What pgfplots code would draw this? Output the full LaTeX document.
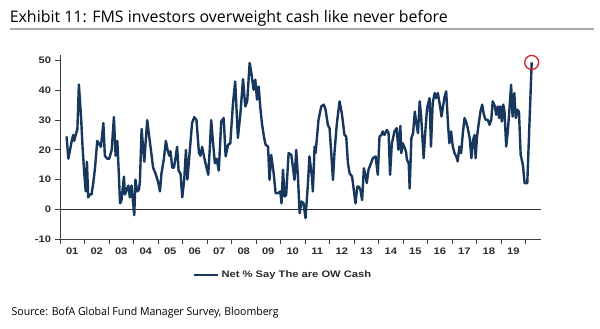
\documentclass[border=0pt]{standalone}
\usepackage{pgfplots}
\pgfplotsset{compat=1.18}
\usepackage{fontspec}
\setmainfont{Liberation Sans}
\newfontfamily\chartfont[FakeStretch=1.18]{Liberation Sans}
\newfontfamily\titlefont{Open Sans}
\definecolor{navy}{HTML}{17375E}
\definecolor{circred}{HTML}{D0202E}
\definecolor{axgray}{HTML}{404040}
\definecolor{txtgray}{HTML}{2B2B2B}
\definecolor{srcgray}{HTML}{4A4A4A}
\definecolor{rulegray}{HTML}{A8A8A8}
\newsavebox\titlebox
\newsavebox\srcbox
\newlength\tw
\newlength\sw
\begin{document}%
\sbox\titlebox{\titlefont\fontsize{16}{19}\selectfont Exhibit 11: FMS investors overweight cash like never before}%
\sbox\srcbox{\titlefont\fontsize{11}{13}\selectfont Source: BofA Global Fund Manager Survey, Bloomberg}%
\setlength\tw{\wd\titlebox}%
\setlength\sw{\wd\srcbox}%
\pgfmathsetmacro\tsx{438bp/\tw}%
\pgfmathsetmacro\ssx{267bp/\sw}%
\begin{tikzpicture}
\useasboundingbox (0,0) rectangle (600bp,329bp);
\node[anchor=base west, inner sep=0pt, text=txtgray] at (9.6bp,306bp) {\scalebox{\tsx}[1]{\usebox\titlebox}};
\draw[rulegray, line width=1.2bp] (9.6bp,300bp) -- (594bp,300bp);
\node[anchor=base west, inner sep=0pt, text=srcgray] at (11.5bp,14bp) {\scalebox{\ssx}[1]{\usebox\srcbox}};
\begin{axis}[
  at={(60bp,90bp)}, anchor=south west,
  scale only axis, width=481bp, height=184bp,
  xmin=2001, xmax=2020.63, ymin=-10, ymax=51.9,
  axis lines*=left,
  axis line style={axgray, line width=0.8bp},
  tick style={axgray, line width=0.8bp},
  tick align=outside, major tick length=5.5bp,
  xtick={2001,...,2020},
  xticklabels={01,02,03,04,05,06,07,08,09,10,11,12,13,14,15,16,17,18,19,{}},
  x tick label style={xshift=12.24bp},
  ytick={-10,0,10,20,30,40,50},
  /pgf/number format/assume math mode=true,
  tick label style={font=\chartfont\bfseries\fontsize{9.5}{11}\selectfont, text=txtgray},
  legend style={at={(axis description cs:0.2765,-0.1957)}, anchor=west, draw=none, fill=none,
    inner sep=0pt, font=\chartfont\bfseries\fontsize{9.5}{11}\selectfont, text=txtgray},
  legend image code/.code={\draw[#1] (0bp,0bp) -- (24bp,0bp);},
  clip=false,
]
\addplot[forget plot, black!80, line width=0.8bp] coordinates {(2001,0) (2020.63,0)};
\addplot[navy, line width=2.4bp, line join=round] coordinates {
(2001.27,24.5) (2001.34,17) (2001.41,20) (2001.48,23) (2001.54,25) (2001.58,23) (2001.64,25) (2001.71,27) (2001.77,42) (2001.86,31) (2001.92,21) (2001.99,12) (2002.05,6) (2002.10,16) (2002.15,4) (2002.22,5) (2002.29,5) (2002.36,9) (2002.43,14) (2002.52,23) (2002.60,22) (2002.67,21) (2002.77,29) (2002.83,18) (2002.93,17) (2003.01,17) (2003.11,20) (2003.20,31) (2003.27,18) (2003.34,23) (2003.40,12) (2003.45,2) (2003.51,3) (2003.61,11) (2003.65,5) (2003.72,6.5) (2003.79,8) (2003.85,4) (2003.92,8) (2004.03,-2) (2004.08,10) (2004.15,6) (2004.22,6.5) (2004.26,9) (2004.33,27) (2004.40,20) (2004.44,16) (2004.49,22) (2004.56,30) (2004.64,24.5) (2004.74,18) (2004.80,14) (2004.90,12) (2005.01,9) (2005.08,6) (2005.14,12) (2005.24,17) (2005.32,23) (2005.39,20) (2005.46,18) (2005.51,19.5) (2005.58,14) (2005.65,14) (2005.71,17) (2005.78,21) (2005.84,13) (2005.92,12) (2005.99,4) (2006.07,10) (2006.14,20) (2006.20,10) (2006.30,20) (2006.39,29) (2006.48,31) (2006.57,30) (2006.67,19) (2006.73,18) (2006.80,21) (2006.87,18) (2006.98,14) (2007.05,11.6) (2007.11,20) (2007.17,30) (2007.25,22) (2007.32,15.5) (2007.39,17) (2007.48,13)
(2007.58,29.5) (2007.68,30.7) (2007.76,17.8) (2007.86,21.7) (2007.95,22.2) (2008.06,35.7) (2008.15,43) (2008.26,24) (2008.36,32) (2008.47,43.8) (2008.56,34.6) (2008.64,36.3) (2008.74,49.2) (2008.81,45.8) (2008.90,40.2) (2008.97,43.6) (2009.04,36.9) (2009.11,41.3) (2009.17,34.6) (2009.24,29) (2009.32,24.5) (2009.39,21.7) (2009.49,21.1) (2009.55,9.9) (2009.62,18.3) (2009.72,12.1) (2009.80,5.4) (2009.89,5.4) (2009.99,6) (2010.04,2) (2010.10,13.3) (2010.17,4.3) (2010.23,4.8) (2010.33,18.9) (2010.44,18.3) (2010.51,13.8) (2010.57,9.9) (2010.64,20) (2010.71,11) (2010.78,-1.3) (2010.86,2.6) (2010.94,2) (2011.02,-3) (2011.12,8.8) (2011.18,17.8) (2011.28,11) (2011.32,6) (2011.39,21.1) (2011.43,18.9) (2011.55,30.1) (2011.66,34.6) (2011.76,35.2) (2011.84,33.5) (2011.93,28.4) (2012.00,27.3) (2012.07,18.9) (2012.14,9.9) (2012.20,18.9) (2012.30,29) (2012.41,36.3) (2012.50,32.4) (2012.61,25) (2012.68,24.5) (2012.75,15.5) (2012.82,12.1) (2012.92,11) (2012.99,6.5) (2013.06,2) (2013.13,7.6) (2013.20,7.6) (2013.26,6.5) (2013.33,3.1) (2013.40,13.8) (2013.45,12.1) (2013.52,8.8) (2013.59,13.3) (2013.67,15) (2013.77,17.2) (2013.88,17.8) (2013.97,11.6) (2014.04,24.5) (2014.12,25) (2014.17,26.2) (2014.24,25) (2014.34,26.7) (2014.41,25.6) (2014.47,11.6) (2014.54,22) (2014.65,26.2) (2014.74,27.3) (2014.81,20)
(2014.89,28) (2014.93,18.9) (2014.99,22.2) (2015.05,21) (2015.12,19.4) (2015.16,16.6) (2015.23,15.5) (2015.27,7) (2015.34,23.9) (2015.41,25.6) (2015.48,32.9) (2015.54,29) (2015.61,25.6) (2015.68,36.3) (2015.74,31.2) (2015.84,17.2) (2015.91,26.2) (2015.98,34) (2016.08,37.4) (2016.14,21.1) (2016.21,35.7) (2016.29,39.1) (2016.35,37.4) (2016.42,39.1) (2016.50,35.2) (2016.57,31.2) (2016.63,34.6) (2016.70,38) (2016.76,39.7) (2016.84,27.9) (2016.89,22.2) (2016.96,26.2) (2017.03,21.1) (2017.10,18.9) (2017.17,17.8) (2017.23,16.1) (2017.30,21.1) (2017.37,18.9) (2017.44,25.6) (2017.51,30.7) (2017.57,29.5) (2017.64,27.3) (2017.72,23.9) (2017.79,17.2) (2017.86,23.4) (2017.92,25) (2017.96,17.2) (2018.02,24.5) (2018.09,29) (2018.16,32.9) (2018.23,35.2) (2018.30,31.8) (2018.37,30.1) (2018.46,30.1) (2018.53,28.4) (2018.60,30.1) (2018.66,36.3) (2018.75,34.6) (2018.80,31.8) (2018.87,34.6) (2018.92,30.7) (2018.98,34.6) (2019.03,29.5) (2019.09,35.2) (2019.14,32.9) (2019.21,21.1) (2019.28,26.7) (2019.35,34.6) (2019.41,41.9) (2019.47,31.2) (2019.54,39.1) (2019.60,30.7) (2019.66,33.5) (2019.73,32.9) (2019.80,18.3) (2019.89,15) (2019.96,8.8) (2020.07,8.8) (2020.25,49.4)
};
\addlegendentry{Net \% Say The are OW Cash}
\addplot[forget plot, only marks, mark=o, mark size=7bp, circred, mark options={line width=1.3bp}] coordinates {(2020.25,49.4)};
\end{axis}
\end{tikzpicture}%
\end{document}
